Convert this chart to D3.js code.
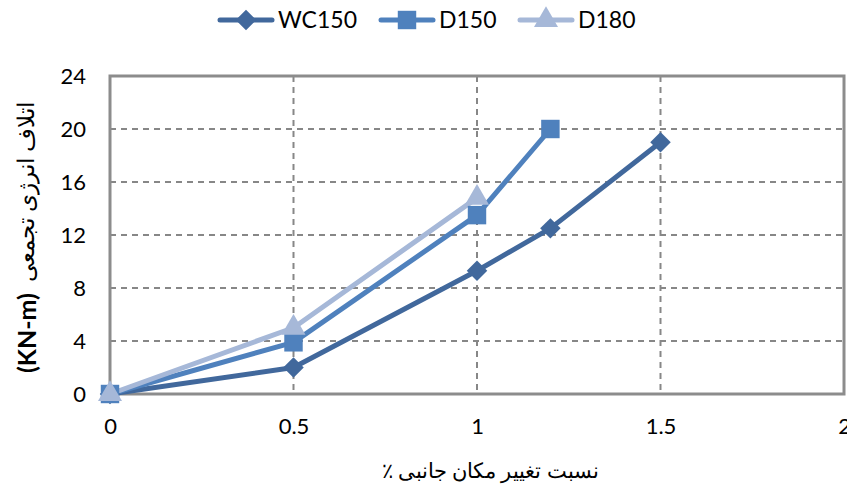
<!DOCTYPE html>
<html><head><meta charset="utf-8">
<script src="https://cdn.jsdelivr.net/npm/d3@7"></script>
<style>body{margin:0;background:#fff}svg{display:block}</style>
</head><body><svg id="c" width="847" height="489"></svg>
<script>
const xTicks = [0, 0.5, 1, 1.5, 2];
const xTickLabels = ["0", "0.5", "1", "1.5", "2"];
const yTicks = [0, 4, 8, 12, 16, 20, 24];
const seriesNames = ["WC150", "D150", "D180"];
const wc150X = [0, 0.5, 1, 1.2, 1.5];
const wc150Y = [0, 2, 9.3, 12.5, 19];
const d150X = [0, 0.5, 1, 1.2];
const d150Y = [0, 3.9, 13.5, 20];
const d180X = [0, 0.5, 1];
const d180Y = [0, 5, 14.8];
const colors = ["#41689c", "#4f81bd", "#a6b8d8"];

const series = [
  {name: seriesNames[0], pts: wc150X.map((x,i)=>[x, wc150Y[i]])},
  {name: seriesNames[1], pts: d150X.map((x,i)=>[x, d150Y[i]])},
  {name: seriesNames[2], pts: d180X.map((x,i)=>[x, d180Y[i]])}
];
// marker shapes: rotated square (diamond), square, triangle
const markerSym = [
  {type: d3.symbolSquare, size: 210, rot: 45},
  {type: d3.symbolSquare, size: 340, rot: 0},
  {type: d3.symbolTriangle, size: 250, rot: 0}
];

const svg = d3.select("#c");
const L = 110, R = 844, T = 76, B = 394;
const x = d3.scaleLinear().domain([0, 2]).range([L, R]);
const y = d3.scaleLinear().domain([0, 24]).range([B, T]);
const font = "Lato, 'Open Sans', sans-serif";
const serif = "'Liberation Serif', 'DejaVu Serif', serif";

// grid
svg.append("g").selectAll("line").data(yTicks.filter(d=>d>0 && d<24)).join("line")
  .attr("x1", L).attr("x2", R).attr("y1", d=>y(d)).attr("y2", d=>y(d))
  .attr("stroke", "#878787").attr("stroke-width", 2).attr("stroke-dasharray", "6,5");
svg.append("g").selectAll("line").data(xTicks.filter(d=>d>0 && d<2)).join("line")
  .attr("y1", T).attr("y2", B).attr("x1", d=>x(d)).attr("x2", d=>x(d))
  .attr("stroke", "#878787").attr("stroke-width", 2).attr("stroke-dasharray", "6,5");

// border
svg.append("rect").attr("x", L).attr("y", T).attr("width", R-L).attr("height", B-T)
  .attr("fill", "none").attr("stroke", "#8c8c8c").attr("stroke-width", 3);

// axes
const yAxis = d3.axisLeft(y).tickValues(yTicks).tickSize(0).tickPadding(24);
const ga = svg.append("g").attr("transform", `translate(${L},0)`).call(yAxis);
ga.select(".domain").remove();
ga.selectAll("text").attr("font-family", font).attr("font-size", 22).attr("fill", "#000");
const xAxis = d3.axisBottom(x).tickValues(xTicks).tickFormat((d,i)=>xTickLabels[i]).tickSize(0).tickPadding(24);
const gx = svg.append("g").attr("transform", `translate(0,${B})`).call(xAxis);
gx.select(".domain").remove();
gx.selectAll("text").attr("font-family", font).attr("font-size", 22).attr("fill", "#000");

// series
const line = d3.line().x(d=>x(d[0])).y(d=>y(d[1]));
series.forEach((s, i) => {
  svg.append("path").datum(s.pts).attr("d", line).attr("fill", "none")
    .attr("stroke", colors[i]).attr("stroke-width", 5).attr("stroke-linejoin", "round");
});
series.forEach((s, i) => {
  const m = markerSym[i];
  svg.append("g").selectAll("path").data(s.pts).join("path")
    .attr("d", d3.symbol().type(m.type).size(m.size))
    .attr("transform", d=>`translate(${x(d[0])},${y(d[1])}) rotate(${m.rot})`)
    .attr("fill", colors[i]);
});

// legend
const legX = [220, 381, 520];
series.forEach((s, i) => {
  const m = markerSym[i];
  const g = svg.append("g").attr("transform", `translate(${legX[i]},20)`);
  g.append("line").attr("x1", 0).attr("x2", 52).attr("stroke", colors[i]).attr("stroke-width", 5).attr("stroke-linecap", "round");
  g.append("path").attr("d", d3.symbol().type(m.type).size(m.size)).attr("transform", `translate(26,0) rotate(${m.rot})`).attr("fill", colors[i]);
  g.append("text").attr("x", 58).attr("y", 8).text(s.name).attr("font-family", font).attr("font-size", 23).attr("fill", "#000");
});

// axis titles
svg.append("text").attr("x", 490).attr("y", 478).attr("text-anchor", "middle")
  .attr("direction", "rtl").attr("font-family", serif).attr("font-size", 21)
  .text("نسبت تغییر مکان جانبی ٪");
const yl = svg.append("g").attr("transform", "translate(36,233) rotate(-90)");
yl.append("text").attr("x", -140).attr("y", 0).attr("text-anchor", "start")
  .attr("font-family", font).attr("font-weight", "bold").attr("font-size", 25).text("(KN-m)");
yl.append("text").attr("x", 131).attr("y", -2).attr("text-anchor", "end")
  .attr("font-family", serif).attr("font-size", 23)
  .text("اتلاف انرژی تجمعی");
</script></body></html>
